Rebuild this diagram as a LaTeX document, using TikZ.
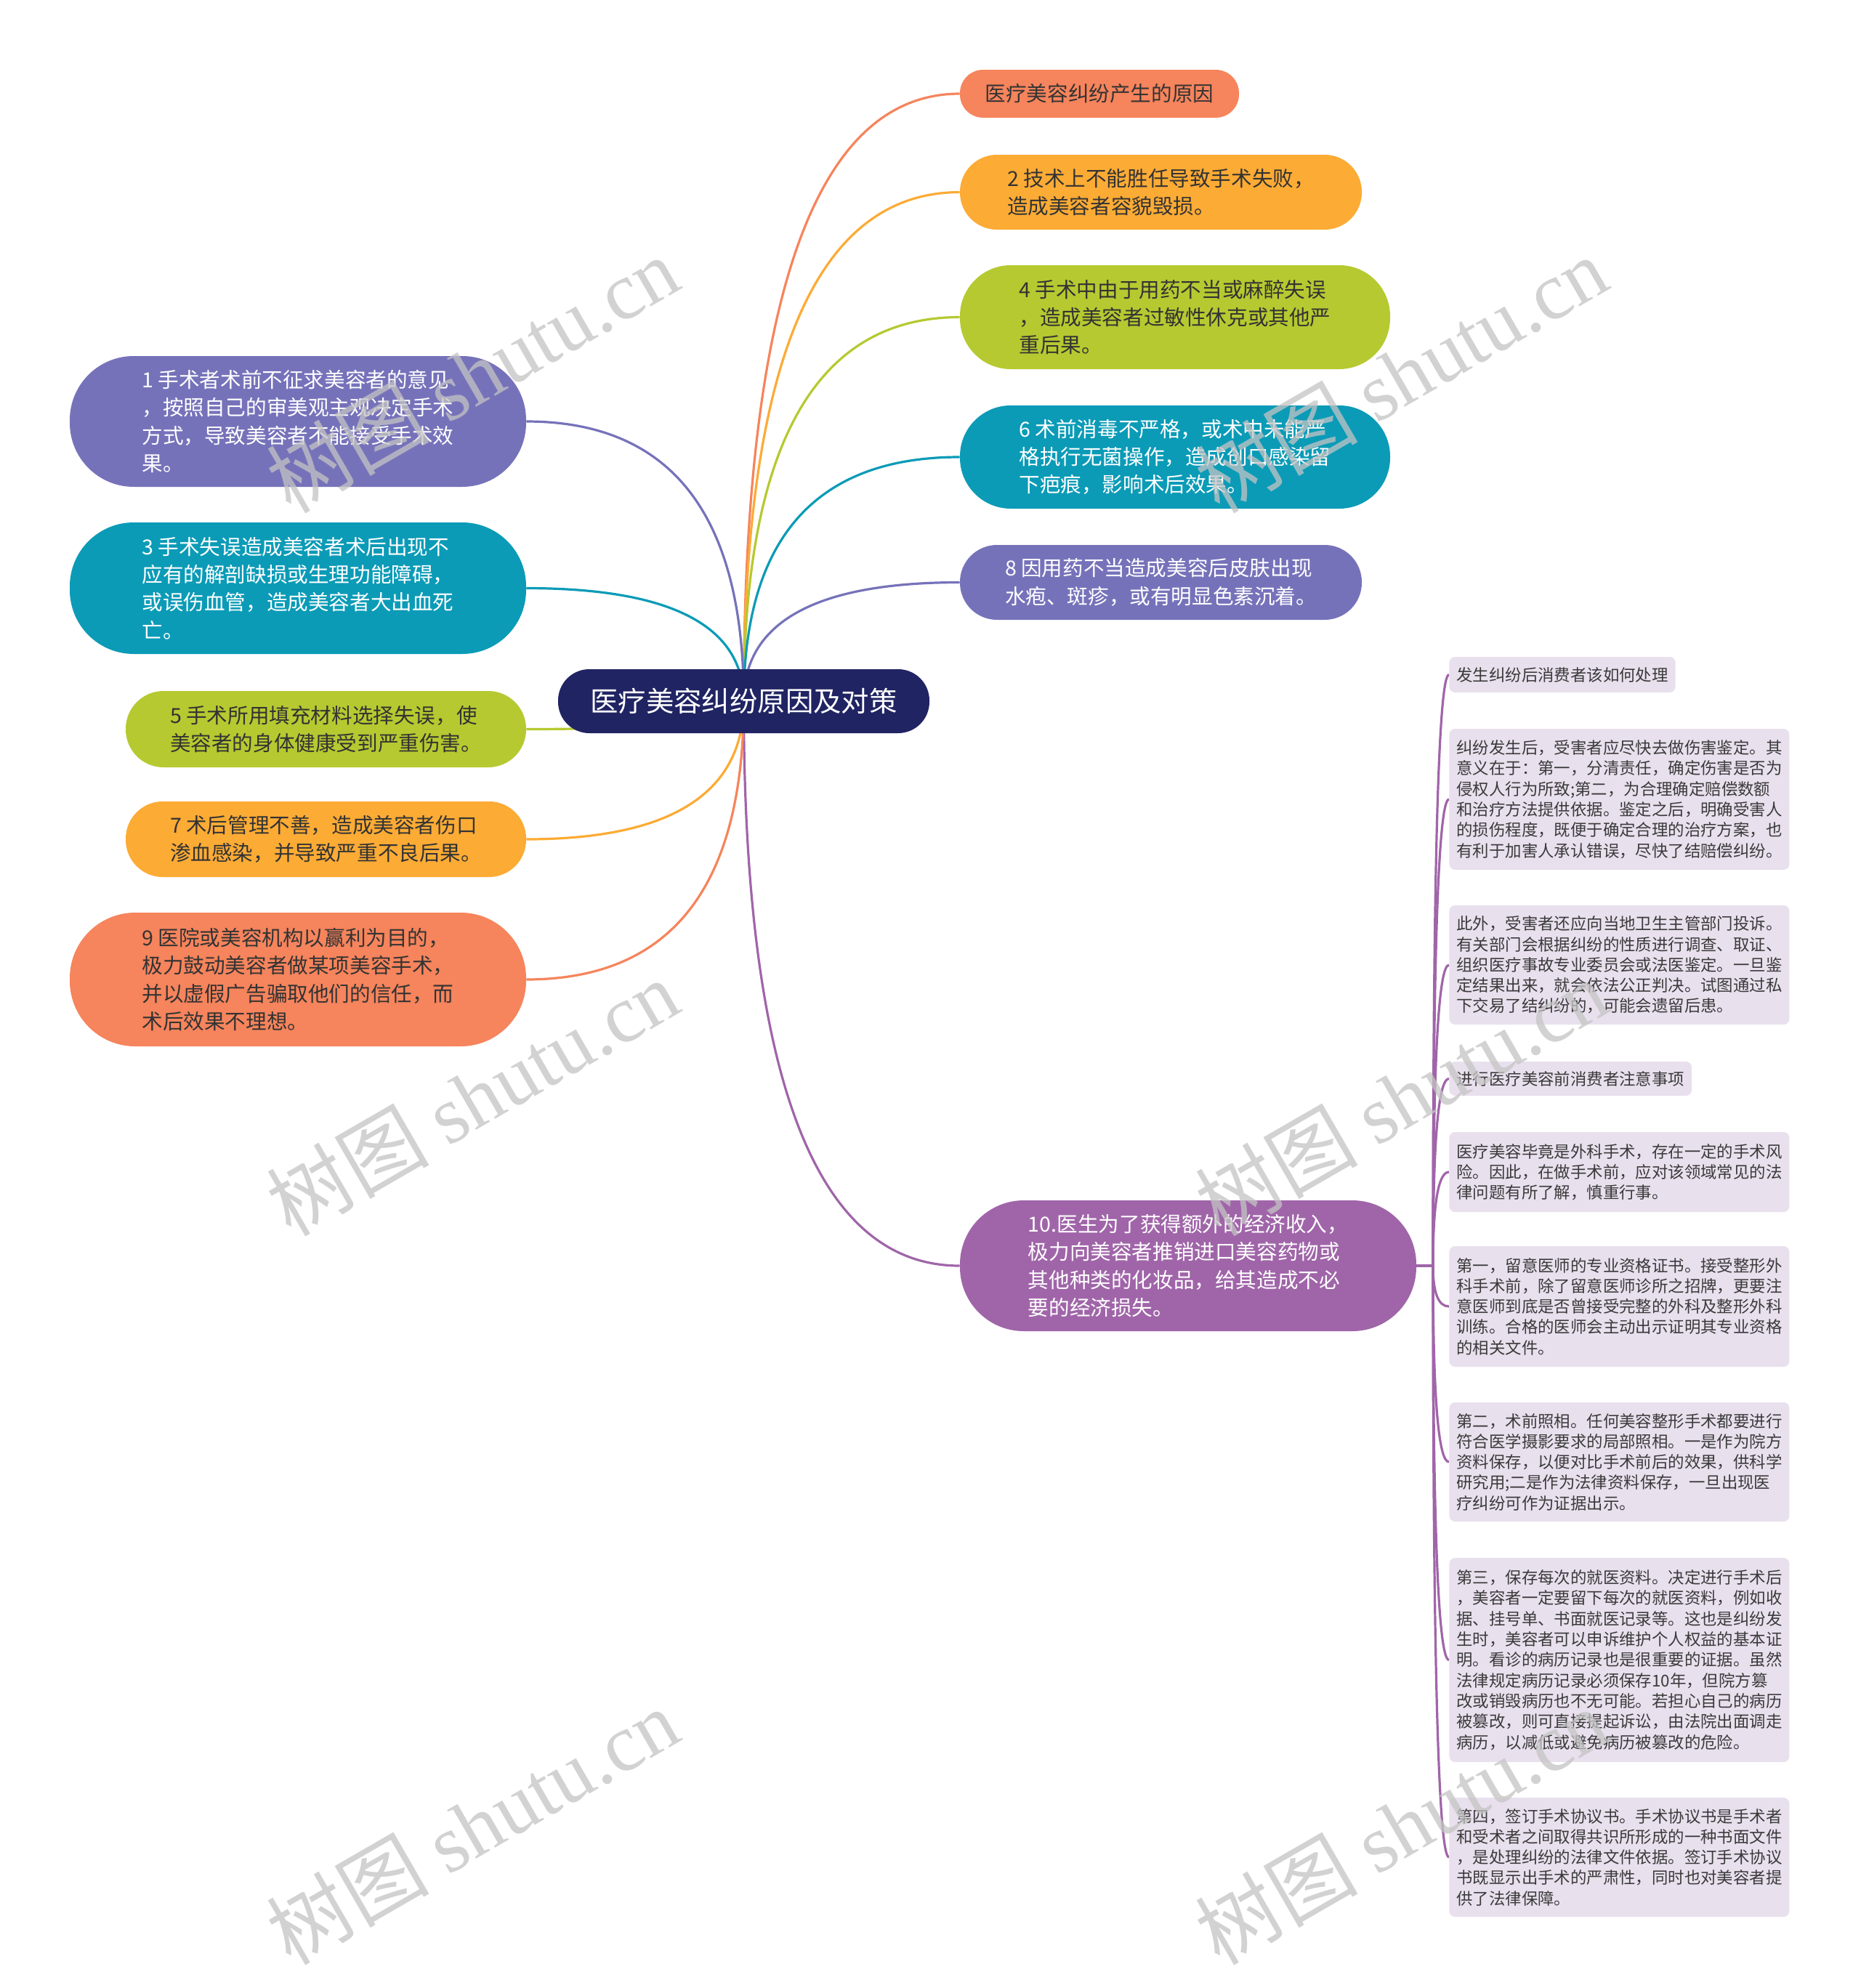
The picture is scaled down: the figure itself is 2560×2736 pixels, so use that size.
\documentclass[tikz,border=0pt]{standalone}
\usepackage{fontspec}
\setmainfont{Noto Sans CJK SC}
\newfontfamily\wmserif{Liberation Serif}
\usetikzlibrary{calc}
\pgfdeclarelayer{background}
\pgfdeclarelayer{lines}
\pgfdeclarelayer{marks}
\pgfsetlayers{background,lines,main,marks}
\definecolor{cCoral}{HTML}{F6845C}
\definecolor{cOrange}{HTML}{FCAB35}
\definecolor{cGreen}{HTML}{B6C930}
\definecolor{cTeal}{HTML}{0B9BB7}
\definecolor{cPurple}{HTML}{7672BA}
\definecolor{cMauve}{HTML}{A065A9}
\definecolor{cNavy}{HTML}{202463}
\definecolor{cDark}{HTML}{333333}
\definecolor{cLeaf}{HTML}{E9E0EE}
\definecolor{cLeafText}{HTML}{3A3A3A}
\definecolor{cWm}{HTML}{C4C4C4}
\tikzset{
  mainbox/.style={inner sep=0pt, align=left, draw=none,
    font=\fontsize{14.3pt}{19.2pt}\selectfont},
  leafbox/.style={anchor=west, fill=cLeaf, text=cLeafText, rounded corners=4pt,
    inner xsep=5pt, inner ysep=0pt, align=left,
    font=\fontsize{11.2pt}{14.15pt}\selectfont},
  wideleaf/.style={leafbox, text width=224pt},
  conn/.style={line width=1.6pt},
  wm/.style={rotate=30, text=cWm, text opacity=0.75,
    font=\fontsize{56pt}{60pt}\selectfont}
}
\newcommand\qlink[3]{\draw[conn,#1] (#2) .. controls ($(#2)!0.6667!(#2 |- #3)$) and ($(#3)!0.6667!(#2 |- #3)$) .. (#3);}
\begin{document}
\begin{tikzpicture}[x=0.5pt,y=-0.5pt]
\begin{pgfonlayer}{background}
\fill[white] (0,0) rectangle (2560,2736);
\end{pgfonlayer}
\useasboundingbox (0,0) rectangle (2560,2736);

% root
\node[mainbox, fill=cNavy, text=white, minimum width=255.5pt, minimum height=44pt,
  rounded corners=21.5pt, font=\fontsize{19.2pt}{22pt}\selectfont] (root) at (1023.5,965) {医疗美容纠纷原因及对策};

% right side
\node[mainbox, fill=cCoral, text=cDark, minimum width=192pt, minimum height=33pt, rounded corners=16pt] (top) at (1513,129) {医疗美容纠纷产生的原因};
\node[mainbox, fill=cOrange, text=cDark, minimum width=276.5pt, minimum height=51.5pt, rounded corners=25.5pt] (n2) at (1597.5,264.5) {2 技术上不能胜任导致手术失败，\\造成美容者容貌毁损。};
\node[mainbox, fill=cGreen, text=cDark, minimum width=296pt, minimum height=71.5pt, rounded corners=35pt] (n4) at (1617,436.5) {4 手术中由于用药不当或麻醉失误\\，造成美容者过敏性休克或其他严\\重后果。};
\node[mainbox, fill=cTeal, text=white, minimum width=296pt, minimum height=71pt, rounded corners=35pt] (n6) at (1617,629) {6 术前消毒不严格，或术中未能严\\格执行无菌操作，造成创口感染留\\下疤痕，影响术后效果。};
\node[mainbox, fill=cPurple, text=white, minimum width=276.5pt, minimum height=51.5pt, rounded corners=25.5pt] (n8) at (1597.5,801.5) {8 因用药不当造成美容后皮肤出现\\水疱、斑疹，或有明显色素沉着。};
\node[mainbox, fill=cMauve, text=white, minimum width=314pt, minimum height=90pt, rounded corners=44pt] (n10) at (1635,1742) {10.医生为了获得额外的经济收入，\\极力向美容者推销进口美容药物或\\其他种类的化妆品，给其造成不必\\要的经济损失。};

% left side
\node[mainbox, fill=cPurple, text=white, minimum width=314pt, minimum height=90pt, rounded corners=44pt] (n1) at (410,580) {1 手术者术前不征求美容者的意见\\，按照自己的审美观主观决定手术\\方式，导致美容者不能接受手术效\\果。};
\node[mainbox, fill=cTeal, text=white, minimum width=314pt, minimum height=90.5pt, rounded corners=44pt] (n3) at (410,809.5) {3 手术失误造成美容者术后出现不\\应有的解剖缺损或生理功能障碍，\\或误伤血管，造成美容者大出血死\\亡。};
\node[mainbox, fill=cGreen, text=cDark, minimum width=275.5pt, minimum height=52.5pt, rounded corners=26pt] (n5) at (448.5,1003.5) {5 手术所用填充材料选择失误，使\\美容者的身体健康受到严重伤害。};
\node[mainbox, fill=cOrange, text=cDark, minimum width=275.5pt, minimum height=52pt, rounded corners=25.5pt] (n7) at (448.5,1155) {7 术后管理不善，造成美容者伤口\\渗血感染，并导致严重不良后果。};
\node[mainbox, fill=cCoral, text=cDark, minimum width=314pt, minimum height=92pt, rounded corners=45pt] (n9) at (410,1348) {9 医院或美容机构以赢利为目的，\\极力鼓动美容者做某项美容手术，\\并以虚假广告骗取他们的信任，而\\术后效果不理想。};

% leaves
\node[leafbox, minimum height=24.5pt] (l1) at (1994,928.5) {发生纠纷后消费者该如何处理};
\node[wideleaf, minimum height=97pt] (l2) at (1994,1100) {纠纷发生后，受害者应尽快去做伤害鉴定。其\\意义在于：第一，分清责任，确定伤害是否为\\侵权人行为所致;第二，为合理确定赔偿数额\\和治疗方法提供依据。鉴定之后，明确受害人\\的损伤程度，既便于确定合理的治疗方案，也\\有利于加害人承认错误，尽快了结赔偿纠纷。};
\node[wideleaf, minimum height=82pt] (l3) at (1994,1328) {此外，受害者还应向当地卫生主管部门投诉。\\有关部门会根据纠纷的性质进行调查、取证、\\组织医疗事故专业委员会或法医鉴定。一旦鉴\\定结果出来，就会依法公正判决。试图通过私\\下交易了结纠纷的，可能会遗留后患。};
\node[leafbox, minimum height=23.5pt] (l4) at (1994,1484.5) {进行医疗美容前消费者注意事项};
\node[wideleaf, minimum height=55pt] (l5) at (1994,1613) {医疗美容毕竟是外科手术，存在一定的手术风\\险。因此，在做手术前，应对该领域常见的法\\律问题有所了解，慎重行事。};
\node[wideleaf, minimum height=83pt] (l6) at (1994,1798) {第一，留意医师的专业资格证书。接受整形外\\科手术前，除了留意医师诊所之招牌，更要注\\意医师到底是否曾接受完整的外科及整形外科\\训练。合格的医师会主动出示证明其专业资格\\的相关文件。};
\node[wideleaf, minimum height=82pt] (l7) at (1994,2012) {第二，术前照相。任何美容整形手术都要进行\\符合医学摄影要求的局部照相。一是作为院方\\资料保存，以便对比手术前后的效果，供科学\\研究用;二是作为法律资料保存，一旦出现医\\疗纠纷可作为证据出示。};
\node[wideleaf, minimum height=140.5pt] (l8) at (1994,2284.5) {第三，保存每次的就医资料。决定进行手术后\\，美容者一定要留下每次的就医资料，例如收\\据、挂号单、书面就医记录等。这也是纠纷发\\生时，美容者可以申诉维护个人权益的基本证\\明。看诊的病历记录也是很重要的证据。虽然\\法律规定病历记录必须保存10年，但院方篡\\改或销毁病历也不无可能。若担心自己的病历\\被篡改，则可直接提起诉讼，由法院出面调走\\病历，以减低或避免病历被篡改的危险。};
\node[wideleaf, minimum height=82pt] (l9) at (1994,2556) {第四，签订手术协议书。手术协议书是手术者\\和受术者之间取得共识所形成的一种书面文件\\，是处理纠纷的法律文件依据。签订手术协议\\书既显示出手术的严肃性，同时也对美容者提\\供了法律保障。};

\coordinate (jn) at (1972,1742);

\begin{pgfonlayer}{lines}
\qlink{cCoral}{root.center}{top.west}
\qlink{cOrange}{root.center}{n2.west}
\qlink{cGreen}{root.center}{n4.west}
\qlink{cTeal}{root.center}{n6.west}
\qlink{cPurple}{root.center}{n8.west}
\qlink{cMauve}{root.center}{n10.west}
\qlink{cPurple}{root.center}{n1.east}
\qlink{cTeal}{root.center}{n3.east}
\qlink{cGreen}{root.center}{n5.east}
\qlink{cOrange}{root.center}{n7.east}
\qlink{cCoral}{root.center}{n9.east}
\draw[conn,cMauve] (n10.east) -- (jn);
\qlink{cMauve}{jn}{l1.west}
\qlink{cMauve}{jn}{l2.west}
\qlink{cMauve}{jn}{l3.west}
\qlink{cMauve}{jn}{l4.west}
\qlink{cMauve}{jn}{l5.west}
\qlink{cMauve}{jn}{l6.west}
\qlink{cMauve}{jn}{l7.west}
\qlink{cMauve}{jn}{l8.west}
\qlink{cMauve}{jn}{l9.west}
\end{pgfonlayer}

\begin{pgfonlayer}{marks}
\node[wm] (wm1) at (650,515) {树图 {\wmserif shutu.cn}};
\node[wm] (wm2) at (1928,515) {树图 {\wmserif shutu.cn}};
\node[wm] (wm3) at (650,1510) {树图 {\wmserif shutu.cn}};
\node[wm] (wm4) at (1928,1510) {树图 {\wmserif shutu.cn}};
\node[wm] (wm5) at (650,2513) {树图 {\wmserif shutu.cn}};
\node[wm] (wm6) at (1928,2513) {树图 {\wmserif shutu.cn}};
\end{pgfonlayer}
\end{tikzpicture}
\end{document}
